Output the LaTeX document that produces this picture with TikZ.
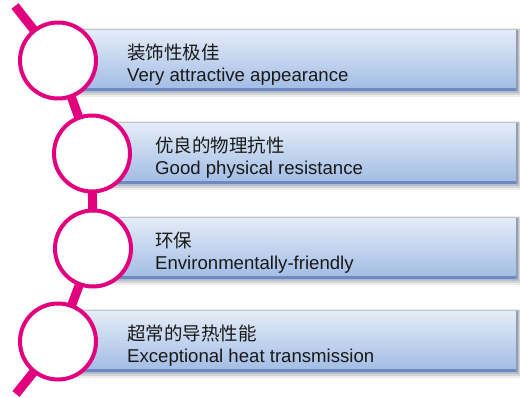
\documentclass[tikz,border=0pt]{standalone}
\usepackage{fontspec}
\setmainfont{Liberation Sans}
\newfontfamily\cjk{Noto Sans CJK SC}
\usetikzlibrary{calc}
\definecolor{pinkline}{RGB}{226,0,126}
\definecolor{bartop}{RGB}{228,236,248}
\definecolor{barbot}{RGB}{160,187,228}
\definecolor{baredge}{RGB}{112,137,188}
\definecolor{barside}{RGB}{146,156,178}
\definecolor{bartopline}{RGB}{190,195,205}
\definecolor{txtcol}{RGB}{25,25,25}
\tikzset{
  link/.style={draw=pinkline, line width=9pt, line cap=butt},
  ring/.style={circle, draw=pinkline, line width=4pt, fill=white, minimum size=76pt, inner sep=0pt},
  barbox/.style={rectangle, top color=bartop, bottom color=barbot, minimum height=61pt, minimum width=#1, anchor=north west, inner sep=0pt, outer sep=0pt},
  cntext/.style={anchor=base west, inner sep=0pt, text=txtcol, font=\fontsize{18.5}{22}\selectfont\cjk},
  entext/.style={anchor=base west, inner sep=0pt, text=txtcol, font=\fontsize{18.6}{22}\selectfont},
  softshade/.style={fill=black, opacity=#1}
}
\newcommand{\barshadow}[1]{%
  \fill[softshade=0.07] ($(#1.north west)+(0,-2.5)$) rectangle ($(#1.south east)+(4,6)$);
  \fill[softshade=0.10] ($(#1.north west)+(0,-1.5)$) rectangle ($(#1.south east)+(2.5,4)$);
  \fill[softshade=0.10] ($(#1.north west)+(0,-0.8)$) rectangle ($(#1.south east)+(1.2,2)$);
}
\newcommand{\baredges}[1]{%
  \fill[bartopline] ($(#1.north west)+(0,-0.8)$) rectangle ($(#1.north east)+(0,0.2)$);
  \fill[baredge] ($(#1.south west)+(0,-3)$) rectangle (#1.south east);
  \fill[barside] ($(#1.north east)+(-2,0)$) rectangle (#1.south east);
}
\begin{document}
\begin{tikzpicture}[x=1pt,y=-1pt]
  \useasboundingbox[fill=white] (0,0) rectangle (520,397);
  % circle centres and free ends
  \coordinate (c1) at (58,60.5);
  \coordinate (c2) at (92,153.5);
  \coordinate (c3) at (93,248.5);
  \coordinate (c4) at (58,341.5);
  \coordinate (t0) at (15,6);
  \coordinate (t5) at (16,394);
  % bars
  \path (58,30) coordinate (b1pos) (92,123) coordinate (b2pos)
        (93,218) coordinate (b3pos) (58,311) coordinate (b4pos);
  \path[draw=none] (b1pos) node[barbox=460pt, fill=none, draw=none, shade=none] (b1) {}
        (b2pos) node[barbox=426pt, fill=none, draw=none, shade=none] (b2) {}
        (b3pos) node[barbox=425pt, fill=none, draw=none, shade=none] (b3) {}
        (b4pos) node[barbox=460pt, fill=none, draw=none, shade=none] (b4) {};
  \barshadow{b1}\barshadow{b2}\barshadow{b3}\barshadow{b4}
  \node[barbox=460pt] (bar1) at (b1pos) {};
  \node[barbox=426pt] (bar2) at (b2pos) {};
  \node[barbox=425pt] (bar3) at (b3pos) {};
  \node[barbox=460pt] (bar4) at (b4pos) {};
  \baredges{bar1}\baredges{bar2}\baredges{bar3}\baredges{bar4}
  % connectors
  \draw[link] (t0) -- (c1);
  \draw[link] (c1) -- (c2);
  \draw[link] (c2) -- (c3);
  \draw[link] (c3) -- (c4);
  \draw[link] (c4) -- (t5);
  % rings
  \node[ring] (k1) at (c1) {};
  \node[ring] (k2) at (c2) {};
  \node[ring] (k3) at (c3) {};
  \node[ring] (k4) at (c4) {};
  % texts
  \node[cntext] (z1) at (127,59.5) {装饰性极佳};
  \node[entext] (e1) at (127,81.5) {Very attractive appearance};
  \node[cntext] (z2) at (155,152.5) {优良的物理抗性};
  \node[entext] (e2) at (155,174.5) {Good physical resistance};
  \node[cntext] (z3) at (155,247.5) {环保};
  \node[entext] (e3) at (155,269.5) {Environmentally-friendly};
  \node[cntext] (z4) at (127,340.5) {超常的导热性能};
  \node[entext] (e4) at (127,362.5) {Exceptional heat transmission};
\end{tikzpicture}
\end{document}
